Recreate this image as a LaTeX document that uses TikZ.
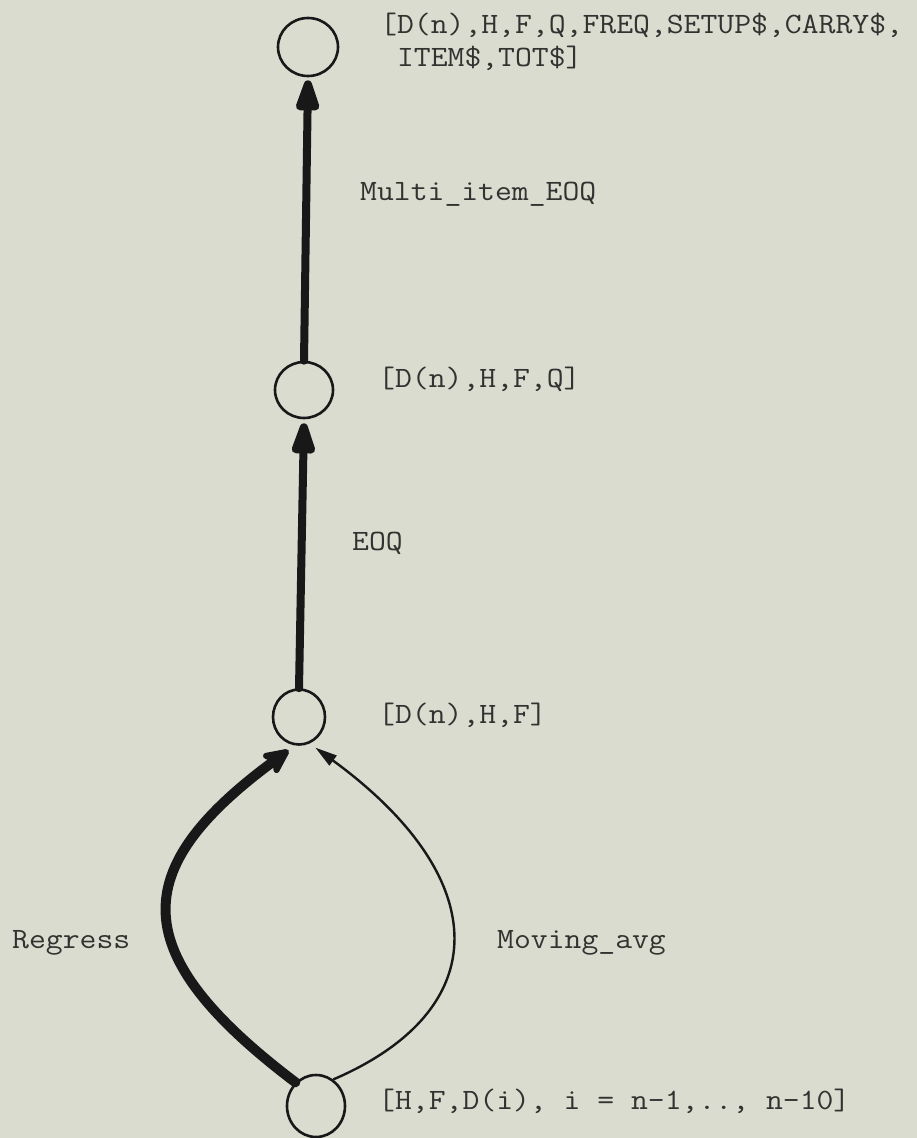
\documentclass[tikz,border=0pt]{standalone}
\usepackage{fontspec}
\newfontfamily\typewriter{Latin Modern Mono}[FakeStretch=1.11]
\usetikzlibrary{arrows.meta,shapes.geometric}
\definecolor{paper}{RGB}{218,220,208}
\definecolor{ink}{RGB}{24,24,24}
\definecolor{type}{RGB}{50,50,48}
\begin{document}
\begin{tikzpicture}[x=1pt,y=-1pt,
  state/.style={ellipse,draw=ink,line width=2.6pt,inner sep=0pt},
  lbl/.style={font=\typewriter\fontsize{29.5}{33}\selectfont,text=type,inner sep=0pt},
  heavy/.style={draw=ink,line width=8pt,line cap=round,
    -{Triangle[length=40pt,width=24pt,round]}},
  bold/.style={draw=ink,line width=10pt,line cap=round,
    -{Stealth[length=32pt,width=30pt,inset=8pt,round]}},
  thin/.style={draw=ink,line width=2.4pt,
    -{Triangle[length=22pt,width=12pt]}}]
\useasboundingbox (0,0) rectangle (917,1138);
\fill[paper] (0,0) rectangle (917,1138);

% states
\node[state,minimum width=60pt,minimum height=58pt] (c1) at (308,47) {};
\node[state,minimum width=58pt,minimum height=56pt] (c2) at (304,390) {};
\node[state,minimum width=52pt,minimum height=55pt] (c3) at (299,717) {};
\node[state,minimum width=58pt,minimum height=62pt] (c4) at (316,1106) {};

% state descriptions
\node[lbl,anchor=north west,align=left] (s1) at (380,13)
  {[D(n),H,F,Q,FREQ,SETUP\$,CARRY\$,\\\hphantom{I}ITEM\$,TOT\$]};
\node[lbl,anchor=base west] (s2) at (378,387) {[D(n),H,F,Q]};
\node[lbl,anchor=base west] (s3) at (378,723) {[D(n),H,F]};
\node[lbl,anchor=base west] (s4) at (378,1109) {[H,F,D(i), i = n-1,.., n-10]};

% transitions
\draw[heavy,shorten >=3pt] (c2.north) -- (c1.south);
\draw[heavy,shorten >=4pt] (c3.north) -- (c2.south);
\draw[bold,shorten >=8pt] (c4.131) .. controls (126,954) and (126,870) .. (c3.262);
\draw[thin,shorten >=7pt] (c4.57) .. controls (495,1010) and (495,879) .. (c3.292);

% transition names
\node[lbl,anchor=base west] (m1) at (360,200) {Multi\_item\_EOQ};
\node[lbl,anchor=base west] (m2) at (352,550) {EOQ};
\node[lbl,anchor=base west] (m3) at (12,948) {Regress};
\node[lbl,anchor=base west] (m4) at (497,948) {Moving\_avg};
\end{tikzpicture}
\end{document}
